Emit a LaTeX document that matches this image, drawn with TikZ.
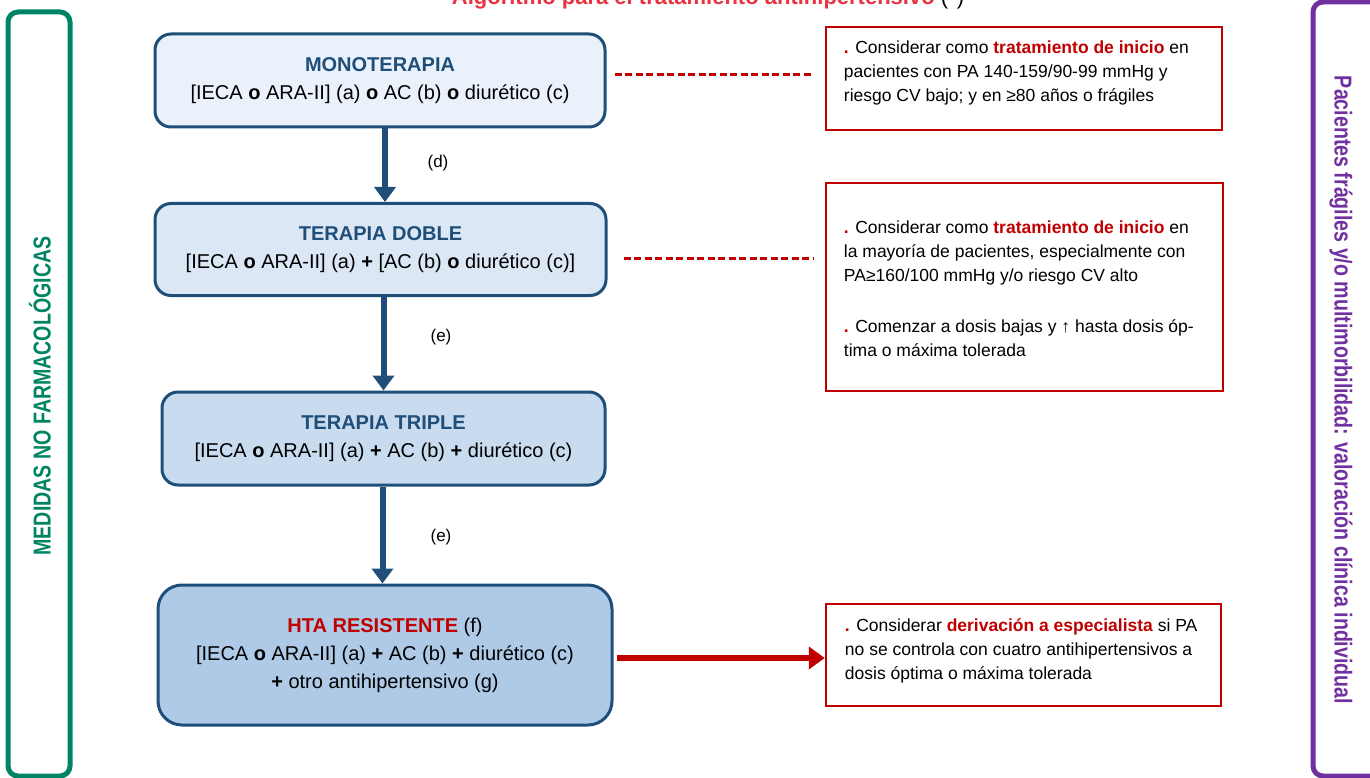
\documentclass[tikz,border=0pt]{standalone}
\usepackage{fontspec}
\setmainfont{Liberation Sans}
\newfontfamily\narrowsans[FakeStretch=0.8]{Liberation Sans}
\usepackage{xcolor}
\usepackage{tikz}
\usetikzlibrary{arrows.meta, positioning}
\definecolor{hbblue}{RGB}{31, 78, 121}
\definecolor{hbred}{RGB}{192, 0, 0}
\definecolor{titlered}{RGB}{232, 52, 64}
\definecolor{nfgreen}{RGB}{0, 132, 100}
\definecolor{frailpurple}{RGB}{112, 48, 160}
\definecolor{monofill}{RGB}{234, 241, 250}
\definecolor{doblefill}{RGB}{219, 231, 244}
\definecolor{triplefill}{RGB}{200, 219, 239}
\definecolor{htafill}{RGB}{174, 202, 231}
\newcommand{\notedot}{{\color{hbred}\bfseries .}}
\newcommand{\stagetitle}[1]{{\color{hbblue}\bfseries #1}}

\begin{document}
\begin{tikzpicture}[x=1pt, y=-1pt,
    stage/.style={rectangle, rounded corners=16pt, draw=hbblue, line width=3pt,
                  align=center, font=\fontsize{20}{28}\selectfont, inner sep=0pt},
    note/.style={rectangle, draw=hbred, line width=2.5pt, fill=white},
    notetext/.style={font=\fontsize{17.5}{24}\selectfont, align=left, anchor=west, inner sep=0pt},
    flow/.style={draw=hbblue, line width=6pt, -{Triangle[width=21pt,length=15pt]}},
    hint/.style={draw=hbred, line width=3pt, dash pattern=on 7pt off 3.5pt},
    alarm/.style={draw=hbred, line width=6pt, -{Triangle[width=22pt,length=16pt]}},
    steplabel/.style={font=\fontsize{17}{20}\selectfont},
    sidebar/.style={rectangle, rounded corners=10pt, line width=5pt},
    sidetext/.style={font=\narrowsans\bfseries\fontsize{24.5}{28}\selectfont}
]
\useasboundingbox (0,0) rectangle (1370,778);
\clip (0,0) rectangle (1370,778);

% Title (cut at the top edge)
\node[font=\fontsize{22}{26}\selectfont\bfseries, text=titlered, anchor=base] (title) at (708,5)
    {Algoritmo para el tratamiento antihipertensivo \textcolor{black}{\mdseries(*)}};

% Side bars
\node[sidebar, draw=nfgreen, minimum width=62pt, minimum height=764pt] (nofarm) at (39,394) {};
\node[sidetext, text=nfgreen, rotate=90] at (40,396) {MEDIDAS NO FARMACOLÓGICAS};

\node[sidebar, draw=frailpurple, minimum width=72pt, minimum height=774pt] (frail) at (1349,389) {};
\node[sidetext, text=frailpurple, rotate=-90] at (1341,390)
    {Pacientes frágiles y/o multimorbilidad: valoración clínica individual};

% Stages
\node[stage, fill=monofill, minimum width=450pt, minimum height=93pt] (mono) at (380,80.5)
    {\stagetitle{MONOTERAPIA}\\{[}IECA \textbf{o} ARA-II] (a) \textbf{o} AC (b) \textbf{o} diurético (c)};
\node[stage, fill=doblefill, minimum width=451pt, minimum height=92pt] (doble) at (380.5,249.5)
    {\stagetitle{TERAPIA DOBLE}\\{[}IECA \textbf{o} ARA-II] (a) \textbf{+} [AC (b) \textbf{o} diurético (c)]};
\node[stage, fill=triplefill, minimum width=443pt, minimum height=93pt] (triple) at (383.5,438.5)
    {\stagetitle{TERAPIA TRIPLE}\\{[}IECA \textbf{o} ARA-II] (a) \textbf{+} AC (b) \textbf{+} diurético (c)};
\node[stage, fill=htafill, rounded corners=24pt, minimum width=454pt, minimum height=140pt] (hta) at (385,655)
    {{\color{hbred}\bfseries HTA RESISTENTE} (f)\\{[}IECA \textbf{o} ARA-II] (a) \textbf{+} AC (b) \textbf{+} diurético (c)\\\textbf{+} otro antihipertensivo (g)};

% Steps between stages
\draw[flow] ([xshift=5pt]mono.south) -- ([xshift=5pt]mono.south |- doble.north);
\draw[flow] ([xshift=3pt]doble.south) -- ([xshift=3pt]doble.south |- triple.north);
\draw[flow] ([xshift=-1pt]triple.south) -- ([xshift=-1pt]triple.south |- hta.north);
\node[steplabel] (lbld) at (438,163) {(d)};
\node[steplabel] (lble1) at (441,337) {(e)};
\node[steplabel] (lble2) at (441,537) {(e)};

% Notes
\node[note, minimum width=396pt, minimum height=103pt] (n1) at (1024,78.5) {};
\node[notetext] at ([xshift=19pt,yshift=6pt]n1.west)
    {\notedot{} Considerar como {\color{hbred}\bfseries tratamiento de inicio} en\\
     pacientes con PA 140-159/90-99 mmHg y\\
     riesgo CV bajo; y en ≥80 años o frágiles};

\node[note, minimum width=397pt, minimum height=208pt] (n2) at (1024.5,287) {};
\node[notetext] at ([xshift=19pt,yshift=-2pt]n2.west)
    {\notedot{} Considerar como {\color{hbred}\bfseries tratamiento de inicio} en\\
     la mayoría de pacientes, especialmente con\\
     PA≥160/100 mmHg y/o riesgo CV alto\\[27pt]
     \notedot{} Comenzar a dosis bajas y ↑ hasta dosis óp-\\
     tima o máxima tolerada};

\node[note, minimum width=395pt, minimum height=102pt] (n3) at (1023.5,655) {};
\node[notetext] at ([xshift=20pt,yshift=4pt]n3.west)
    {\notedot{} Considerar {\color{hbred}\bfseries derivación a especialista} si PA\\
     no se controla con cuatro antihipertensivos a\\
     dosis óptima o máxima tolerada};

% Links to notes
\draw[hint] ([xshift=8pt,yshift=6pt]mono.east) -- ([xshift=-14pt,yshift=6pt]mono.east -| n1.west);
\draw[hint] ([xshift=16pt,yshift=-8.5pt]doble.east) -- ([xshift=-11pt,yshift=-8.5pt]doble.east -| n2.west);
\draw[alarm] ([xshift=3pt,yshift=-3pt]hta.east) -- ([yshift=-3pt]hta.east -| n3.west);

\end{tikzpicture}
\end{document}
